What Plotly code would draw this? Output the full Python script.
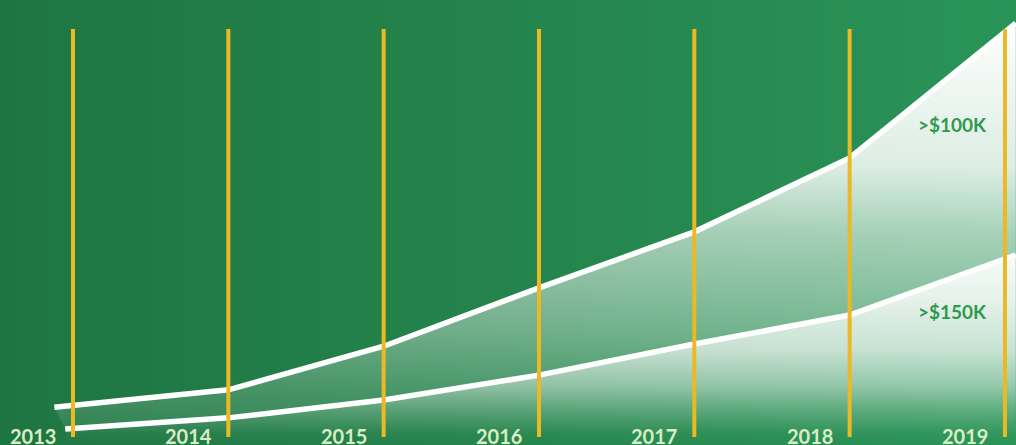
import plotly.graph_objects as go

# ---- data ----
years = [2013, 2014, 2015, 2016, 2017, 2018, 2019]
year_labels = ["2013", "2014", "2015", "2016", "2017", "2018", "2019"]

# ">$100K" series (upper line)
x_100k = [2012.88, 2014, 2015, 2016, 2017, 2018, 2019.07]
y_100k = [8.5, 12.4, 22.2, 35.3, 47.9, 64.5, 94.8]

# ">$150K" series (lower line)
x_150k = [2012.95, 2014, 2015, 2016, 2017, 2018, 2019.07]
y_150k = [3.6, 6.1, 10.1, 15.7, 22.7, 29.2, 42.7]

series_labels = [">$100K", ">$150K"]
label_pos = [(2018.66, 72.1), (2018.66, 29.9)]

X_RANGE = [2012.53, 2019.071]
Y_RANGE = [0, 100]
GRID_Y = [1.8, 93.5]

fig = go.Figure()

# background gradient
fig.add_trace(go.Heatmap(
    x=[2012.3, 2015.8, 2019.3], y=[-5, 105],
    z=[[0, 0.5, 1], [0, 0.5, 1]],
    zsmooth="best", showscale=False, hoverinfo="skip",
    colorscale=[[0, "#1e7441"], [0.5, "#24844c"], [1, "#2a9558"]],
))

# fill under lower line
fig.add_trace(go.Scatter(
    x=x_150k, y=y_150k, mode="lines", line=dict(width=0),
    fill="tozeroy", hoverinfo="skip",
    fillgradient=dict(
        type="vertical", start=0, stop=43,
        colorscale=[
            [0.0, "rgba(255,255,255,0.0)"],
            [0.06, "rgba(255,255,255,0.04)"],
            [0.18, "rgba(255,255,255,0.24)"],
            [0.31, "rgba(255,255,255,0.5)"],
            [0.5, "rgba(255,255,255,0.74)"],
            [0.76, "rgba(255,255,255,0.88)"],
            [1.0, "rgba(255,255,255,0.97)"],
        ],
    ),
))

# fill between the lines
fig.add_trace(go.Scatter(
    x=x_100k, y=y_100k, mode="lines", line=dict(width=0),
    fill="tonexty", hoverinfo="skip",
    fillgradient=dict(
        type="vertical", start=0, stop=95,
        colorscale=[
            [0.0, "rgba(255,255,255,0.06)"],
            [0.12, "rgba(255,255,255,0.16)"],
            [0.21, "rgba(255,255,255,0.27)"],
            [0.27, "rgba(255,255,255,0.35)"],
            [0.5, "rgba(255,255,255,0.58)"],
            [0.66, "rgba(255,255,255,0.84)"],
            [0.95, "rgba(255,255,255,0.97)"],
            [1.0, "rgba(255,255,255,1.0)"],
        ],
    ),
))

# white lines
for xs, ys in [(x_100k, y_100k), (x_150k, y_150k)]:
    fig.add_trace(go.Scatter(
        x=xs, y=ys, mode="lines", hoverinfo="skip",
        line=dict(color="white", width=5.5),
    ))

# yellow vertical year lines
gx, gy = [], []
for yr in years:
    gx += [yr, yr, None]
    gy += [GRID_Y[0], GRID_Y[1], None]
fig.add_trace(go.Scatter(
    x=gx, y=gy, mode="lines", hoverinfo="skip",
    line=dict(color="#ebb923", width=4),
))

annotations = []
for yr, lab in zip(years, year_labels):
    annotations.append(dict(
        x=yr - 0.2575, xref="x", y=0.02, yref="paper",
        text=f"<b>{lab}</b>", showarrow=False,
        xanchor="center", yanchor="middle",
        font=dict(family="Lato", size=20, color="#d9ecc2"),
    ))
for lab, (lx, ly) in zip(series_labels, label_pos):
    annotations.append(dict(
        x=lx, y=ly, xref="x", yref="y",
        text=f"<b>{lab}</b>", showarrow=False,
        xanchor="center", yanchor="middle",
        font=dict(family="Lato", size=19, color="#2f9a4f"),
    ))

fig.update_layout(
    width=1016, height=445,
    margin=dict(l=0, r=0, t=0, b=0),
    paper_bgcolor="#1f7a45", plot_bgcolor="#1f7a45",
    showlegend=False,
    xaxis=dict(range=X_RANGE, visible=False, fixedrange=True),
    yaxis=dict(range=Y_RANGE, visible=False, fixedrange=True),
    annotations=annotations,
)

fig.write_html(
    "out.html",
    config={"displayModeBar": False},
    post_script="document.body.style.margin='0';document.body.style.padding='0';"
                "document.body.style.overflow='hidden';",
)
